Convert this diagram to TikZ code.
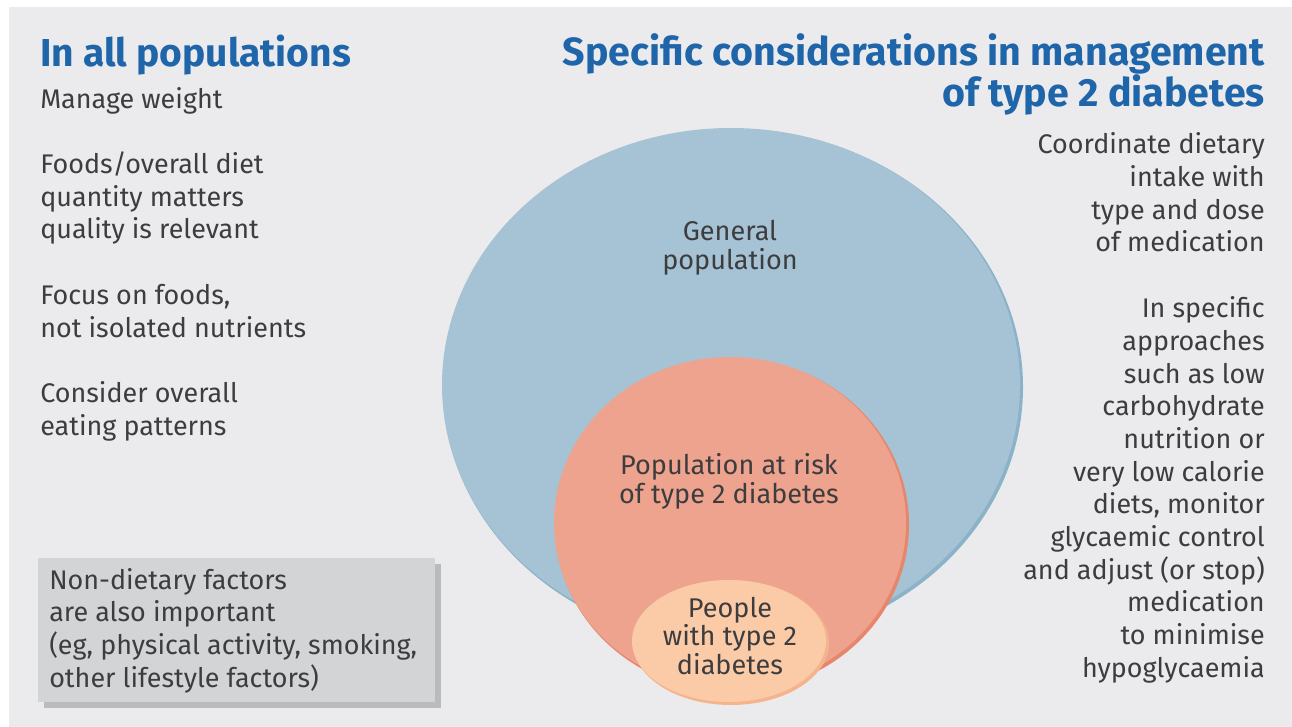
\documentclass[tikz,border=0pt]{standalone}
\usepackage{fontspec}
\setmainfont{Fira Sans}
\usetikzlibrary{positioning}

\definecolor{panel}{HTML}{EBEBED}
\definecolor{heading}{HTML}{1F65A9}
\definecolor{ink}{HTML}{3D3D3F}
\definecolor{genfill}{HTML}{A5C3D4}
\definecolor{genedge}{HTML}{8AB2C8}
\definecolor{riskfill}{HTML}{EEA38F}
\definecolor{riskedge}{HTML}{E8866B}
\definecolor{t2fill}{HTML}{FBCBA7}
\definecolor{t2edge}{HTML}{F5B48C}
\definecolor{boxfill}{HTML}{D3D4D6}
\definecolor{boxshade}{HTML}{BABBBD}

\begin{document}
\begin{tikzpicture}[x=0.75pt,y=-0.75pt,
  body/.style={inner sep=0pt,text=ink,font=\fontsize{20.2}{24.5}\selectfont},
  title/.style={inner sep=0pt,text=heading,font=\fontsize{29.2}{29.25}\selectfont\bfseries},
  label/.style={inner sep=0pt,text=ink,align=center,font=\fontsize{20.3}{21.2}\selectfont}]
  \useasboundingbox (0,0) rectangle (1292,727);
  \fill[panel] (9,7) rectangle (1292,727);% sfondo
  % the three nested populations
  \fill[genedge] (733,387) ellipse [x radius=290, y radius=258];
  \fill[genfill] (731,385) ellipse [x radius=289, y radius=257];
  \fill[riskedge] (732,525) ellipse [x radius=177, y radius=167];
  \fill[riskfill] (730,523) ellipse [x radius=176, y radius=166];
  \fill[t2edge] (731,643) ellipse [x radius=98, y radius=62];
  \fill[t2fill] (729,641) ellipse [x radius=97, y radius=61];
  % box with shadow
  \fill[boxshade] (44,564) rectangle (441,708);
  \fill[boxfill] (38,558) rectangle (435,702);
  % titles (base = last line)
  \node[title,anchor=base west] (allpop) at (40,67) {In all populations};
  \node[title,anchor=base east,align=right,font=\fontsize{29.5}{29.25}\selectfont\bfseries] (specific) at (1265,107)
    {Specific considerations in management\\of type 2 diabetes};
  % left column
  \node[body,anchor=base west,align=left] (weight) at (40,109) {Manage weight};
  \node[body,anchor=base west,align=left] (foods) at (40,239) {Foods/overall diet\\quantity matters\\quality is relevant};
  \node[body,anchor=base west,align=left] (focus) at (40,337) {Focus on foods,\\not isolated nutrients};
  \node[body,anchor=base west,align=left] (patterns) at (40,435) {Consider overall\\eating patterns};
  \node[body,anchor=base west,align=left] (nondiet) at (49,687)
    {Non-dietary factors\\are also important\\(eg, physical activity, smoking,\\other lifestyle factors)};
  % right column
  \node[body,anchor=base east,align=right] (coord) at (1265,252)
    {Coordinate dietary\\intake with\\type and dose\\of medication};
  \node[body,anchor=base east,align=right] (approach) at (1265,677)
    {In specific\\approaches\\such as low\\carbohydrate\\nutrition or\\very low calorie\\diets, monitor\\glycaemic control\\and adjust (or stop)\\medication\\to minimise\\hypoglycaemia};
  % circle labels
  \node[label,anchor=base,font=\fontsize{20.3}{21.75}\selectfont] (general) at (730,270) {General\\population};
  \node[label,anchor=base] (atrisk) at (729,503) {Population at risk\\of type 2 diabetes};
  \node[label,anchor=base] (people) at (730,674) {People\\with type 2\\diabetes};
\end{tikzpicture}
\end{document}
